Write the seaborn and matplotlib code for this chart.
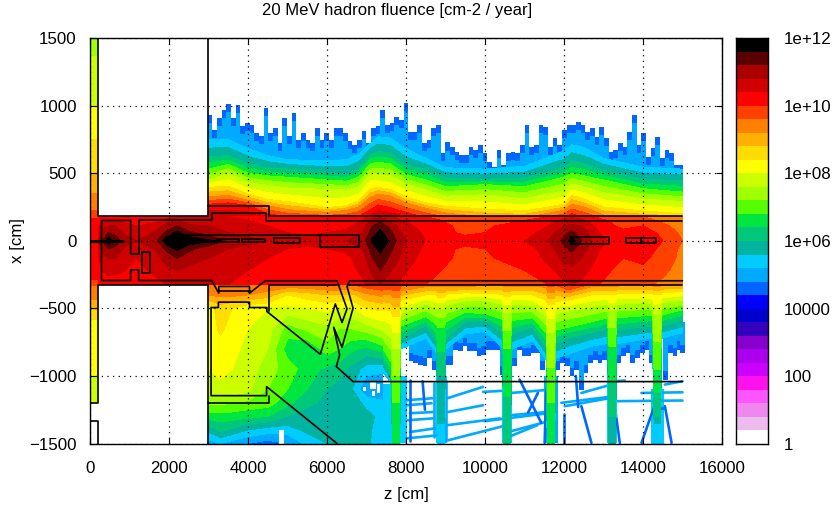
import numpy as np
import matplotlib
matplotlib.use('Agg')
import matplotlib.pyplot as plt
import seaborn as sns
from matplotlib.colors import ListedColormap, BoundaryNorm

sns.set_theme(style='ticks')
plt.rcParams['font.family'] = ['Liberation Sans', 'DejaVu Sans']

# colour bands of the palette, from 1 up to 1e12 (0.4 decade each)
band_colors = ['#ffffff', '#eebbee', '#ee88ee', '#ff55ff', '#ff11ee', '#cc00ff', '#aa00ee', '#8800cc',
               '#3300bb', '#0000cc', '#0000ff', '#0066ff', '#00aaff', '#00ccff', '#00b4a0', '#00c878',
               '#00e640', '#55ff00', '#a0ff00', '#ccff00', '#ffff00', '#ffdd00', '#ffb000', '#ff8000',
               '#ff4000', '#ff0000', '#d00000', '#aa0000', '#5a0000', '#000000']
band_edges = [i * 0.4 for i in range(31)]

# forward strip, z 0-207: log10 fluence along x
strip_x = [-1200, -1005, -585, -510, -437, -338, -290, 0, 170, 230, 350, 500, 750, 1000, 1370, 1500]
strip_log = [7.7, 8.0, 8.4, 8.8, 9.2, 9.6, 10.0, 10.4, 10.0, 9.6, 9.2, 8.8, 8.4, 8.0, 7.6, 7.2]

# tunnel core: log10 fluence, one line per z station
core_x = [-326, -220, -130, -60, 0, 60, 110, 150, 180]
core_z = [207, 300, 460, 650, 900, 1200, 1700, 1950, 2200, 2500, 3000, 3500, 4500, 5500, 6500, 6900, 7150,
          7350, 7550, 7900, 8500, 9500, 11000, 11600, 12000, 12200, 12450, 12900, 13500, 14000, 14500, 15000]
core_log = [
    [10.0, 10.2, 10.3, 10.5, 10.8, 10.5, 10.3, 10.1, 10.0],
    [10.1, 10.4, 10.6, 10.9, 11.1, 10.9, 10.6, 10.3, 10.1],
    [10.2, 10.5, 10.8, 11.2, 11.9, 11.2, 10.8, 10.4, 10.1],
    [10.2, 10.5, 10.8, 11.1, 11.4, 11.1, 10.8, 10.4, 10.1],
    [10.2, 10.4, 10.5, 10.7, 11.0, 10.7, 10.5, 10.3, 10.1],
    [10.2, 10.3, 10.4, 10.5, 10.8, 10.5, 10.4, 10.2, 10.0],
    [10.3, 10.5, 10.7, 10.9, 11.2, 10.9, 10.6, 10.3, 10.1],
    [10.4, 10.7, 11.0, 11.3, 11.9, 11.3, 11.0, 10.6, 10.2],
    [10.5, 10.8, 11.2, 11.7, 11.98, 11.7, 11.2, 10.8, 10.4],
    [10.4, 10.7, 11.0, 11.3, 11.9, 11.3, 10.9, 10.6, 10.3],
    [10.5, 10.6, 10.8, 10.95, 11.7, 10.95, 10.8, 10.6, 10.4],
    [10.4, 10.5, 10.6, 10.8, 11.1, 10.8, 10.7, 10.5, 10.4],
    [10.2, 10.3, 10.4, 10.5, 10.8, 10.5, 10.4, 10.3, 10.1],
    [10.0, 10.1, 10.2, 10.3, 10.6, 10.3, 10.2, 10.1, 10.0],
    [10.1, 10.2, 10.3, 10.5, 10.8, 10.5, 10.3, 10.2, 10.0],
    [10.3, 10.5, 10.6, 10.8, 11.0, 10.8, 10.6, 10.4, 10.2],
    [10.6, 10.9, 11.2, 11.4, 11.7, 11.4, 11.2, 10.9, 10.6],
    [10.8, 11.2, 11.5, 11.7, 11.98, 11.7, 11.5, 11.1, 10.7],
    [10.6, 10.9, 11.2, 11.4, 11.6, 11.4, 11.1, 10.8, 10.5],
    [10.3, 10.5, 10.7, 10.8, 10.9, 10.8, 10.6, 10.4, 10.2],
    [10.0, 10.1, 10.2, 10.3, 10.4, 10.3, 10.2, 10.1, 10.0],
    [9.8, 9.85, 9.9, 9.9, 10.2, 9.9, 9.9, 9.85, 9.8],
    [9.8, 10.0, 10.1, 10.2, 10.4, 10.2, 10.1, 10.0, 9.8],
    [10.0, 10.3, 10.5, 10.6, 10.8, 10.6, 10.4, 10.2, 10.0],
    [10.3, 10.6, 10.9, 11.1, 11.3, 11.1, 10.8, 10.5, 10.2],
    [10.4, 10.7, 11.0, 11.3, 11.8, 11.3, 10.9, 10.6, 10.3],
    [10.3, 10.6, 10.8, 11.0, 11.2, 11.0, 10.8, 10.5, 10.2],
    [10.0, 10.1, 10.3, 10.4, 10.5, 10.4, 10.2, 10.1, 9.9],
    [9.8, 9.9, 10.0, 10.1, 10.2, 10.1, 9.9, 9.8, 9.7],
    [9.7, 9.9, 10.1, 10.2, 10.3, 10.2, 10.0, 9.8, 9.6],
    [9.5, 9.7, 9.8, 9.9, 10.0, 9.9, 9.7, 9.5, 9.4],
    [9.3, 9.4, 9.5, 9.5, 9.6, 9.5, 9.4, 9.3, 9.2],
]

# above the tunnel: height x [cm] at which each log10 value is reached
upper_levels = [10.8, 10.0, 9.2, 8.4, 7.6, 6.8, 6.0, 5.2]
upper_z = [3000, 3500, 4000, 4500, 5000, 6000, 6500, 6800, 7100, 7300, 7600, 8000, 8500, 9000, 10000, 11000,
           12000, 12200, 12500, 13000, 14000, 15000]
upper_x = [
    [170, 270, 325, 395, 450, 530, 620, 750],
    [170, 280, 335, 404, 500, 565, 630, 750],
    [170, 262, 300, 345, 430, 500, 570, 680],
    [150, 200, 260, 305, 410, 480, 540, 630],
    [120, 175, 230, 290, 390, 470, 530, 600],
    [120, 165, 210, 245, 380, 450, 505, 590],
    [120, 170, 225, 260, 375, 440, 495, 600],
    [120, 180, 250, 295, 395, 470, 530, 640],
    [150, 230, 320, 385, 500, 570, 640, 720],
    [180, 265, 345, 395, 490, 580, 660, 770],
    [170, 245, 330, 380, 480, 570, 650, 760],
    [150, 210, 280, 325, 420, 490, 560, 680],
    [120, 170, 240, 280, 375, 450, 525, 610],
    [100, 150, 205, 255, 330, 400, 465, 540],
    [90, 130, 175, 235, 340, 415, 455, 530],
    [90, 130, 170, 220, 310, 400, 465, 550],
    [120, 170, 225, 270, 370, 470, 540, 665],
    [150, 200, 270, 335, 420, 500, 590, 710],
    [120, 170, 250, 310, 400, 480, 570, 690],
    [90, 130, 190, 250, 355, 450, 520, 610],
    [80, 120, 170, 220, 310, 385, 455, 545],
    [70, 110, 165, 200, 290, 360, 445, 530],
]

# shielding below the tunnel, z 3000-7400: log10 fluence on a grid
shield_x = [-320, -400, -500, -650, -800, -950, -1100, -1200, -1300, -1400, -1500]
shield_z = [3000, 3300, 3600, 4000, 4500, 5000, 5500, 6000, 6300, 6600, 7000, 7400]
shield_log = [
    [9.6, 9.2, 8.2, 8.1, 8.05, 8.0, 7.8, 7.3, 6.6, 5.7, 5.0],
    [9.6, 9.3, 8.6, 8.5, 8.2, 8.1, 7.9, 7.3, 6.6, 6.1, 5.2],
    [9.6, 9.3, 8.4, 8.2, 8.1, 8.0, 7.9, 7.2, 6.6, 5.9, 5.0],
    [9.6, 9.2, 8.1, 8.0, 7.9, 7.8, 7.7, 7.1, 6.5, 5.6, 4.8],
    [9.6, 9.0, 8.0, 7.8, 7.6, 7.4, 7.2, 7.0, 6.4, 5.4, 4.6],
    [9.6, 8.4, 7.9, 7.0, 6.6, 7.0, 6.8, 6.5, 6.0, 5.4, 4.8],
    [9.6, 8.6, 8.0, 7.3, 6.4, 6.6, 6.4, 6.1, 5.8, 5.7, 5.3],
    [9.7, 8.8, 8.1, 7.5, 7.0, 6.3, 6.0, 5.9, 5.8, 5.7, 5.6],
    [9.7, 8.8, 8.0, 7.2, 6.8, 6.2, 5.8, 5.7, 5.7, 5.7, 5.7],
    [9.6, 8.7, 7.9, 7.2, 6.5, 5.9, 5.7, 5.8, 5.8, 5.8, 5.8],
    [9.9, 9.1, 8.4, 7.4, 6.3, 5.4, 4.8, 5.5, 5.7, 5.7, 5.7],
    [10.0, 9.3, 8.5, 7.7, 6.6, 5.3, 4.8, 5.3, 5.5, 5.4, 5.3],
]

# below the tunnel, z 7400-15000: depth x [cm] at which each log10 value is reached
lower_levels = [10.0, 9.2, 8.4, 7.6, 6.8, 6.0, 5.2]
lower_z = [7400, 7630, 7670, 7830, 7870, 8500, 8770, 8810, 8970, 9010, 9500, 10000, 10440, 10480, 10640, 10680,
           11200, 11550, 11590, 11750, 11790, 12100, 12700, 13100, 13140, 13300, 13340, 14240, 14280, 14440,
           14480, 15000]
lower_x = [
    [-320, -395, -505, -660, -790, -880, -960],
    [-320, -400, -520, -720, -900, -1000, -1060],
    [-320, -420, -560, -800, -1200, -1800, -1900],
    [-320, -420, -560, -800, -1200, -1800, -1900],
    [-300, -370, -440, -540, -630, -720, -800],
    [-290, -340, -400, -470, -560, -630, -720],
    [-290, -340, -400, -500, -620, -740, -830],
    [-290, -340, -420, -500, -640, -1000, -1700],
    [-290, -340, -420, -500, -640, -1000, -1700],
    [-290, -340, -395, -480, -600, -720, -800],
    [-250, -340, -385, -445, -530, -600, -690],
    [-250, -330, -390, -440, -540, -590, -670],
    [-290, -330, -395, -470, -580, -680, -790],
    [-290, -335, -410, -530, -800, -1500, -1700],
    [-290, -335, -410, -530, -800, -1500, -1700],
    [-290, -335, -395, -470, -590, -690, -800],
    [-290, -335, -400, -480, -570, -640, -740],
    [-295, -345, -440, -560, -680, -790, -880],
    [-300, -380, -470, -680, -1200, -1800, -1900],
    [-300, -380, -470, -680, -1200, -1800, -1900],
    [-300, -360, -450, -540, -660, -760, -870],
    [-340, -385, -440, -520, -640, -720, -840],
    [-300, -340, -400, -490, -600, -680, -780],
    [-295, -335, -395, -470, -570, -650, -760],
    [-295, -335, -400, -510, -780, -1300, -1700],
    [-295, -335, -400, -510, -780, -1300, -1700],
    [-295, -335, -390, -470, -570, -660, -760],
    [-290, -330, -390, -460, -550, -630, -720],
    [-290, -335, -400, -540, -950, -1300, -1400],
    [-290, -335, -400, -540, -950, -1300, -1400],
    [-290, -330, -385, -460, -550, -630, -720],
    [-285, -325, -375, -440, -510, -590, -680],
]

# noisy top fringe, one bin every 118 cm from z = 3040
top_fringe = [933, 823, 909, 970, 1015, 909, 1007, 847, 872, 860, 798, 773, 983, 798, 835, 724, 909, 773, 946, 749,
              798, 749, 724, 835, 749, 798, 749, 835, 835, 798, 736, 712, 749, 810, 724, 835, 847, 970, 860, 872,
              919, 894, 1017, 808, 808, 857, 722, 746, 832, 857, 648, 727, 697, 660, 635, 635, 697, 672, 709, 648,
              586, 549, 672, 561, 648, 660, 648, 709, 857, 697, 709, 857, 845, 697, 759, 709, 820, 857, 857, 877,
              857, 808, 832, 771, 845, 759, 660, 672, 722, 697, 808, 931, 709, 796, 623, 685, 771, 611, 672, 648,
              561, 561]

# noisy bottom fringe
low_fringe_z = [8127, 8245, 8364, 8482, 8600, 8719, 9023, 9142, 9260, 9378, 9497, 9615, 9734, 9852, 9970, 10089,
                10207, 10326, 10444, 10748, 10867, 10985, 11104, 11222, 11340, 11459, 11594, 11848, 11966, 12085,
                12203, 12321, 12440, 12558, 12677, 12795, 12913, 13032, 13150, 13387, 13505, 13624, 13742, 13860,
                13979, 14097, 14215, 14570, 14689, 14807, 14926, 14994]
low_fringe_x = [-892, -904, -916, -929, -867, -953, -916, -916, -805, -818, -781, -818, -818, -855, -842, -805,
                -805, -805, -990, -929, -805, -855, -855, -830, -830, -953, -1052, -953, -904, -929,
                -1002, -953, -1101, -978, -904, -879, -904, -879, -879, -904, -855, -830, -904, -867,
                -830, -805, -904, -1027, -830, -855, -805, -830]

# single particle tracks (z0, z1, x0, x1)
cyan_tracks = [(9030, 9950, -1167, -1081), (9065, 9950, -1267, -1217), (9030, 10380, -1365, -1314),
               (9065, 10550, -1476, -1365), (9950, 10460, -1118, -1110), (10630, 11570, -1291, -1267),
               (10590, 11320, -1452, -1365), (8017, 8684, -1180, -1165), (8017, 8650, -1217, -1202),
               (8100, 8684, -1276, -1267), (8050, 8684, -1328, -1314), (8100, 8734, -1415, -1388),
               (8017, 8776, -1462, -1440), (8700, 8700, -1050, -1450), (9020, 9020, -1040, -1480),
               (11932, 13285, -1199, -1150), (13285, 15000, -1187, -1182), (13960, 15000, -1126, -1121),
               (14554, 15000, -1064, -1039), (13285, 13539, -1039, -1034), (12440, 13200, -1126, -1064),
               (12017, 13200, -1224, -1162), (10664, 11679, -1126, -1101), (9987, 11679, -1335, -1273),
               (10664, 11763, -1409, -1323)]
blue_tracks = [(10875, 11425, -1027, -1347), (11340, 11087, -1126, -1273), (11552, 11510, -1101, -1495),
               (12440, 12694, -1224, -1495), (13285, 13412, -1224, -1495), (13962, 14258, -1495, -1249),
               (14554, 14723, -1224, -1495), (12000, 12000, -1280, -1495), (8100, 8100, -1030, -1480),
               (12300, 12360, -1000, -1230), (14250, 14530, -1240, -1240), (8420, 8480, -1040, -1250)]

# scattered hits behind the shafts (z0, z1, x0, x1, log10)
scatter_patches = [(7400, 7700, -1060, -1500, 5.4), (7840, 8020, -1000, -1500, 5.3),
                   (8760, 9030, -1000, -1500, 5.4), (10440, 10680, -1000, -1500, 5.4),
                   (11500, 11850, -1000, -1500, 5.1), (13090, 13350, -1000, -1500, 5.4),
                   (14200, 14530, -1100, -1500, 5.3)]
# empty spots inside the shielding (z0, z1, x0, x1)
empty_spots = [(6900, 7000, -1080, -1110), (7080, 7240, -1040, -1100), (7260, 7350, -1060, -1130),
               (7150, 7220, -1110, -1150), (4775, 4900, -1400, -1500)]

# geometry outline of the cavern and shielding
outlines = [
    ([207, 207, 3000, 3000], [1500, 180, 180, 1500]),
    ([0, 207, 207, 3000, 3000], [-1200, -1200, -326, -326, -1500]),
    ([0, 207, 207], [-1336, -1336, -1500]),
    ([1028, 1028, 292, 292, 1028, 1028, 1230, 1230, 3080, 3260, 3260, 4038, 4038, 4436, 6254, 6507, 6380, 6211,
      5831, 4478, 4478, 4038, 4038, 3250, 3250, 3065, 3065, 4470, 4470, 6254],
     [-96, 150, 150, -294, -294, -215, -215, -294, -294, -388, -338, -338, -388, -296, -296, -504, -605, -467,
      -840, -523, -494, -494, -454, -454, -494, -494, -1146, -1146, -1079, -1500]),
    ([1028, 1230, 1230, 3080, 3080, 4460, 4460, 15000], [-96, -96, 150, 150, 207, 207, 148, 148]),
    ([3000, 4520, 4520, 15000], [256, 256, 180, 180]),
    ([3000, 4520, 4520], [-1198, -1198, -1146]),
    ([3260, 4038], [-373, -373]),
    ([15000, 6575, 6507, 6660, 6380, 6169, 6321, 6236, 6660, 15000],
     [-296, -296, -338, -499, -788, -640, -844, -931, -1042, -1042]),
    ([15000, 6530], [-326, -326]),
    ([6250, 4520, 4520], [-326, -326, -523]),
    ([1306, 1518, 1518, 1306, 1306], [-84, -84, -240, -240, -84]),
    ([2430, 6800, 6800, 5830, 5830], [40, 40, -45, -45, 40]),
    ([3210, 3760, 3760, 3210, 3210], [10, 10, -10, -10, 10]),
    ([3840, 4420, 4420, 3840, 3840], [10, 10, -10, -10, 10]),
    ([4670, 5320, 5320, 4670, 4670], [17, 17, -17, -17, 17]),
    ([12186, 13142, 13142, 12186, 12186], [25, 25, -25, -25, 25]),
    ([13580, 13945, 13945, 13580, 13580], [18, 18, -18, -18, 18]),
    ([13960, 14325, 14325, 13960, 13960], [18, 18, -18, -18, 18]),
]
beam_segments = [([0, 820], [0, 0]), ([1900, 3300], [0, 0])]

x_ticks = [0, 2000, 4000, 6000, 8000, 10000, 12000, 14000, 16000]
y_ticks = [-1500, -1000, -500, 0, 500, 1000, 1500]
cbar_labels = ['1', '100', '10000', '1e+06', '1e+08', '1e+10', '1e+12']

W, H = 837, 508
fig = plt.figure(figsize=(W / 100, H / 100), dpi=100)
ax = fig.add_axes([90 / W, 1 - 443.5 / H, 632 / W, 405.5 / H])
cax = fig.add_axes([736 / W, 1 - 444 / H, 32 / W, 406 / H])

cmap = ListedColormap(band_colors)
norm = BoundaryNorm(band_edges, 30)
fill = dict(levels=band_edges, cmap=cmap, norm=norm)


def level_fill(z, levels, heights, order):
    # contour bands between the heights read for each log10 value
    heights = np.array(heights, dtype=float).T
    zz = np.tile(np.array(z, dtype=float), (len(levels), 1))
    vals = np.tile(np.array(levels)[:, None], (1, len(z)))
    ax.contourf(zz, heights, vals, zorder=order, **fill)


# fringes first, the solid bands cover their lower ends
top_z = 3040 + 118 * np.arange(len(top_fringe))
ax.bar(top_z, np.array(top_fringe) - 500, width=118, bottom=500, color='#0066ff', linewidth=0, zorder=1)
ax.bar(top_z, np.array(top_fringe) - 560, width=118, bottom=500, color='#00aaff', linewidth=0, zorder=1.05)
ax.bar(low_fringe_z, np.array(low_fringe_x) + 600, width=118, bottom=-600, color='#0066ff', linewidth=0, zorder=1)
ax.bar(low_fringe_z, np.array(low_fringe_x) + 660, width=118, bottom=-600, color='#00aaff', linewidth=0, zorder=1.05)
for z0, z1, x0, x1, lv in scatter_patches:
    ax.bar((z0 + z1) / 2, x1 - x0, width=z1 - z0, bottom=x0, color=cmap(norm(lv)), linewidth=0, zorder=1)
for z0, z1, x0, x1 in cyan_tracks:
    ax.plot([z0, z1], [x0, x1], color='#00aaff', lw=1.9, zorder=1.1)
for z0, z1, x0, x1 in blue_tracks:
    ax.plot([z0, z1], [x0, x1], color='#0066ff', lw=1.9, zorder=1.1)

level_fill(upper_z, upper_levels, upper_x, 1.2)
level_fill(lower_z, lower_levels, lower_x, 1.2)
ax.contourf(shield_z, shield_x, np.array(shield_log).T, zorder=1.3, **fill)
for z0, z1, x0, x1 in empty_spots:
    ax.bar((z0 + z1) / 2, x1 - x0, width=z1 - z0, bottom=x0, color='white', linewidth=0, zorder=1.35)
ax.contourf([0, 207], strip_x, np.array([strip_log, strip_log]).T, zorder=1.4, **fill)
ax.contourf(core_z, core_x, np.array(core_log).T, zorder=1.5, **fill)

for zs, xs in outlines:
    ax.plot(zs, xs, color='black', lw=1.2, zorder=2)
for zs, xs in beam_segments:
    ax.plot(zs, xs, color='black', lw=2.2, zorder=2)

ax.set_xlim(0, 16000)
ax.set_ylim(-1500, 1500)
ax.set_xticks(x_ticks)
ax.set_yticks(y_ticks)
ax.set_axisbelow(False)
ax.grid(True, color='black', lw=0.9, linestyle=(0, (1, 3.5)))
ax.tick_params(direction='in', length=4.5, width=0.8, top=True, right=True, labelsize=12.2, color='black',
               labelcolor='black')
ax.tick_params(axis='x', pad=12.5)
ax.tick_params(axis='y', pad=9.5)
for s in ax.spines.values():
    s.set_visible(True)
    s.set_color('black')
    s.set_linewidth(1.0)
ax.set_xlabel('z [cm]', fontsize=12.2, color='black', labelpad=8)
ax.set_ylabel('x [cm]', fontsize=12.2, color='black', labelpad=3)
fig.text(397.5 / W, 1 - 10.5 / H, '20 MeV hadron fluence [cm-2 / year]', ha='center', va='center', fontsize=12,
         color='black')

# palette strip drawn as a one column heatmap
sns.heatmap(np.arange(30)[:, None], cmap=cmap, vmin=-0.5, vmax=29.5, cbar=False, ax=cax, xticklabels=False)
cax.set_ylim(0, 30)
cax.set_yticks([0, 5, 10, 15, 20, 25, 30])
cax.set_yticklabels(cbar_labels, rotation=0)
cax.set_yticks([2.5, 7.5, 12.5, 17.5, 22.5, 27.5], minor=True)
cax.tick_params(axis='y', which='major', direction='in', length=5, width=0.8, left=True, right=True,
                labelleft=False, labelright=True, labelsize=12.2, labelcolor='black', color='black', pad=11.5)
cax.tick_params(axis='y', which='minor', direction='in', length=2.5, width=0.8, left=True, right=True,
                color='black')
for s in cax.spines.values():
    s.set_visible(True)
    s.set_color('black')
    s.set_linewidth(1.0)

fig.savefig('out.png', dpi=100)
